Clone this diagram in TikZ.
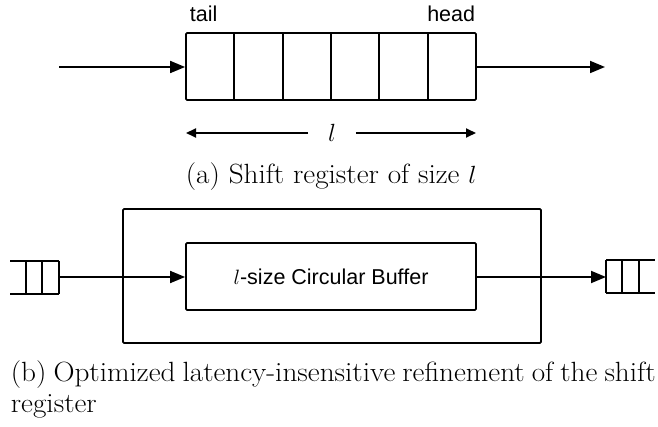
\documentclass[tikz,border=0pt]{standalone}
\usepackage{fontspec}
\usetikzlibrary{arrows.meta}
\newfontfamily\labelfont{Liberation Sans}
\newcommand{\capscale}[1]{\scalebox{1.05}[1]{#1}}
\begin{document}
\begin{tikzpicture}[x=1pt,y=-1pt,
  line width=1.8pt,
  box/.style={draw,rectangle,rounded corners=1.2pt,inner sep=0pt},
  bigarrow/.style={-{Triangle[length=15pt,width=12pt]}},
  smallarrow/.style={-{Triangle[length=10pt,width=9pt]}},
  sanslabel/.style={font=\labelfont\fontsize{21.5}{25}\selectfont,inner sep=0pt},
  captionfont/.style={font=\fontsize{27.8}{33}\selectfont,inner sep=0pt}]
\useasboundingbox (0,0) rectangle (658,427);

% ---------- (a) shift register ----------
\node[box,minimum width=290pt,minimum height=67pt] (reg) at (331,66.5) {};
\foreach \x in {234.3,282.7,331,379.3,427.7}
  \draw (\x,33) -- (\x,100);
\coordinate (inA) at (59,67);
\coordinate (outA) at (605,67);
\draw[bigarrow] (inA) -- (reg.west |- inA);
\draw[bigarrow] (reg.east |- outA) -- (outA);
\node[sanslabel,anchor=base west] (tail) at (189,22) {tail};
\node[sanslabel,anchor=base east] (head) at (476,22) {head};

\node[minimum width=46pt,inner sep=0pt,font=\fontsize{25}{28}\selectfont] (ell) at (332,133) {$l$};
\coordinate (lL) at (186,133);
\coordinate (lR) at (476,133);
\draw[smallarrow] (ell.west) -- (lL);
\draw[smallarrow] (ell.east) -- (lR);

\node[captionfont,anchor=base west] (capa) at (185,184) {\capscale{(a) Shift register of size $l$}};

% ---------- (b) refinement ----------
\node[box,minimum width=418pt,minimum height=134pt] (outer) at (332,276) {};
\node[box,minimum width=290pt,minimum height=67pt,sanslabel] (buf) at (331,276.5)
  {$l$-size Circular Buffer};

% left queue
\draw (10,261) -- (59,261);
\draw (10,294) -- (59,294);
\foreach \x in {26,42,59} \draw (\x,261) -- (\x,294);
\coordinate (lq) at (59,277);
% right queue
\draw (606,260) -- (655,260);
\draw (606,293) -- (655,293);
\foreach \x in {606,622,639} \draw (\x,260) -- (\x,293);
\coordinate (rq) at (606,277);

\draw[bigarrow] (lq) -- (buf.west |- lq);
\draw[bigarrow] (buf.east |- rq) -- (rq);

\node[captionfont,anchor=base west] (capb1) at (10,381)
  {\capscale{\makebox[614pt][s]{(b) Optimized latency-insensitive refinement of the shift}}};
\node[captionfont,anchor=base west] (capb2) at (10,412) {\capscale{register}};
\end{tikzpicture}
\end{document}
